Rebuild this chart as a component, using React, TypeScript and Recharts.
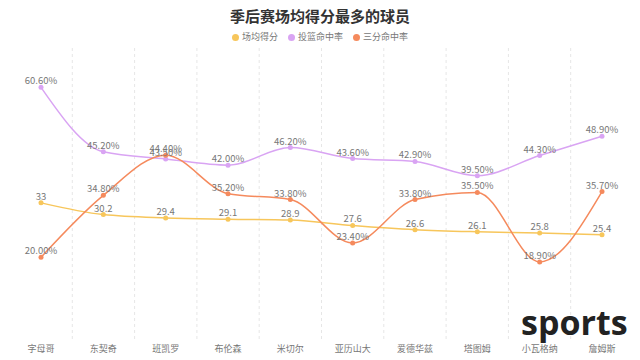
import React from 'react';
import { LineChart, Line, XAxis, YAxis, CartesianGrid, LabelList } from 'recharts';

// ============================================================================
// DATA
// ============================================================================

const players = ['字母哥', '东契奇', '班凯罗', '布伦森', '米切尔', '亚历山大', '爱德华兹', '塔图姆', '小瓦格纳', '詹姆斯'];
const pointsPerGame = [33, 30.2, 29.4, 29.1, 28.9, 27.6, 26.6, 26.1, 25.8, 25.4];
const fieldGoalPct = [60.6, 45.2, 43.5, 42.0, 46.2, 43.6, 42.9, 39.5, 44.3, 48.9];
const threePointPct = [20.0, 34.8, 44.4, 35.2, 33.8, 23.4, 33.8, 35.5, 18.9, 35.7];

const SERIES = [
  { key: 'ppg', name: '场均得分', color: '#f7c65b', percent: false },
  { key: 'fg', name: '投篮命中率', color: '#d9a4f3', percent: true },
  { key: 'tp', name: '三分命中率', color: '#f58a5d', percent: true }
];

const data = players.map((name, i) => ({
  name,
  ppg: pointsPerGame[i],
  fg: fieldGoalPct[i],
  tp: threePointPct[i]
}));

const FONT = '"Microsoft YaHei", "Noto Sans CJK SC", sans-serif';
const MARGIN = { top: 48, right: 7, left: 10, bottom: 0 };
const PLOT_W = 640 - MARGIN.left - MARGIN.right;
// half a band on each side, so points sit in the middle of their category
const HALF_BAND = Math.round(PLOT_W / players.length / 2);

// gridlines sit on the band boundaries, not on the category centres
const bandGrid = ({ offset }: any) => {
  const step = offset.width / players.length;
  const xs: number[] = [];
  for (let i = 1; i < players.length; i++) xs.push(offset.left + i * step);
  return xs;
};

export default function App() {
  return (
    <div style={{ position: 'absolute', left: 0, top: 0, width: 640, height: 360, fontFamily: FONT, background: '#fff' }}>
      <div style={{ position: 'absolute', top: 6, left: 0, width: 640, textAlign: 'center', fontSize: 15, fontWeight: 700, color: '#333', lineHeight: '20px' }}>
        季后赛场均得分最多的球员
      </div>
      <div style={{ position: 'absolute', top: 31, left: 0, width: 640, display: 'flex', justifyContent: 'center', gap: 10, fontSize: 9, color: '#777', lineHeight: '12px' }}>
        {SERIES.map((s) => (
          <div key={s.key} style={{ display: 'flex', alignItems: 'center', gap: 3 }}>
            <span style={{ width: 7, height: 7, borderRadius: '50%', background: s.color, display: 'inline-block' }} />
            <span>{s.name}</span>
          </div>
        ))}
      </div>

      <LineChart width={640} height={360} data={data} margin={MARGIN}>
        <CartesianGrid horizontal={false} strokeDasharray="3 3" stroke="#e6e6e6" verticalCoordinatesGenerator={bandGrid} />
        <XAxis
          dataKey="name"
          height={19}
          axisLine={false}
          tickLine={false}
          tickSize={0}
          tickMargin={5}
          interval={0}
          padding={{ left: HALF_BAND, right: HALF_BAND }}
          tick={{ fontSize: 9, fill: '#777', fontFamily: FONT }}
        />
        <YAxis hide domain={[0, 70]} />
        {SERIES.map((s) => (
          <Line
            key={s.key}
            type="monotone"
            dataKey={s.key}
            name={s.name}
            stroke={s.color}
            strokeWidth={1.5}
            dot={{ r: 2.5, fill: s.color, stroke: s.color, strokeWidth: 0 }}
            isAnimationActive={false}
          >
            <LabelList
              dataKey={s.key}
              position="top"
              offset={3}
              formatter={(v: any) => (s.percent ? `${Number(v).toFixed(2)}%` : `${v}`)}
              style={{ fontSize: 9.5, fill: '#777', fontFamily: FONT }}
            />
          </Line>
        ))}
      </LineChart>

      <div style={{ position: 'absolute', left: 521, top: 302, fontSize: 34, fontWeight: 700, color: '#222', fontFamily: '"Open Sans", sans-serif', lineHeight: '40px' }}>
        sports
      </div>
    </div>
  );
}
